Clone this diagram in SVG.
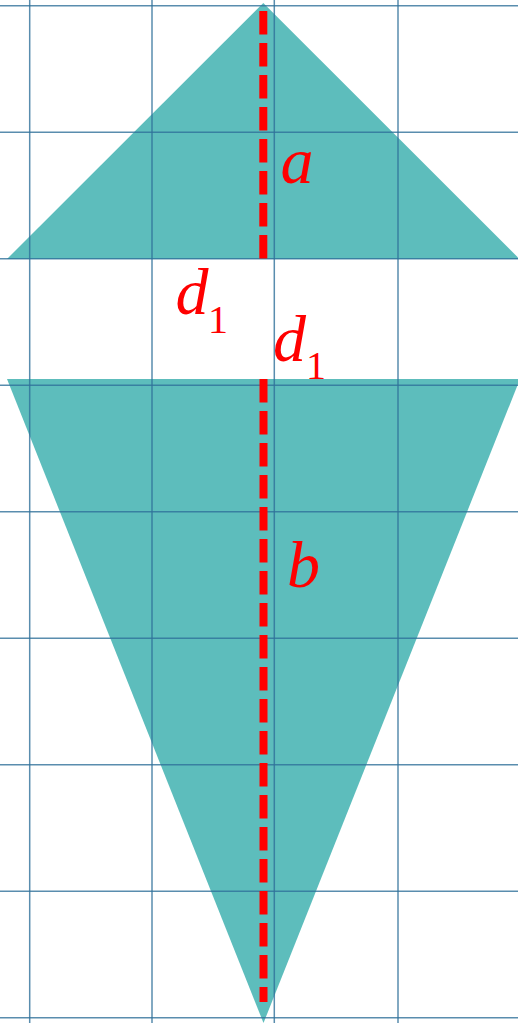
<svg xmlns="http://www.w3.org/2000/svg" width="518" height="1023" viewBox="0 0 518 1023">
<style>
.shape{fill:#5dbdbc;stroke:none}
.grid line{stroke:#30709a;stroke-width:1.5;stroke-opacity:0.8}
.axis{stroke:#ff0000;stroke-width:8;stroke-dasharray:23.5 8.5;fill:none}
.lbl{font-family:"Liberation Serif","Times New Roman",serif;font-style:italic;font-size:66px;fill:#ff0000}
.sub{font-family:"Liberation Serif","Times New Roman",serif;font-size:40px;fill:#ff0000}
</style>
<rect width="518" height="1023" fill="#ffffff"/>
<g id="top-triangle"><polygon class="shape" points="7,259 263.3,3 519.5,259"/></g>
<g id="bottom-triangle"><polygon class="shape" points="7,379 520,379 263.5,1023"/></g>
<g id="grid" class="grid">
<line x1="29.7" y1="0" x2="29.7" y2="1023"/>
<line x1="152" y1="0" x2="152" y2="1023"/>
<line x1="274.3" y1="0" x2="274.3" y2="1023"/>
<line x1="398" y1="0" x2="398" y2="1023"/>
<line x1="0" y1="5.7" x2="518" y2="5.7"/>
<line x1="0" y1="132.2" x2="518" y2="132.2"/>
<line x1="0" y1="258.7" x2="518" y2="258.7"/>
<line x1="0" y1="385.2" x2="518" y2="385.2"/>
<line x1="0" y1="511.7" x2="518" y2="511.7"/>
<line x1="0" y1="638.2" x2="518" y2="638.2"/>
<line x1="0" y1="764.7" x2="518" y2="764.7"/>
<line x1="0" y1="891.2" x2="518" y2="891.2"/>
<line x1="0" y1="1017.7" x2="518" y2="1017.7"/>
</g>
<g id="connectors">
<line class="axis" x1="263.3" y1="11" x2="263.3" y2="259"/>
<line class="axis" x1="263.5" y1="379" x2="263.5" y2="1002"/>
</g>
<g id="label-a"><text class="lbl" x="280.5" y="183">a</text></g>
<g id="label-d1-left"><text class="lbl" x="175.5" y="314">d</text><text class="sub" x="208" y="332.5">1</text></g>
<g id="label-d1-right"><text class="lbl" x="273" y="360.5">d</text><text class="sub" x="306" y="379">1</text></g>
<g id="label-b"><text class="lbl" x="287" y="587">b</text></g>
</svg>
